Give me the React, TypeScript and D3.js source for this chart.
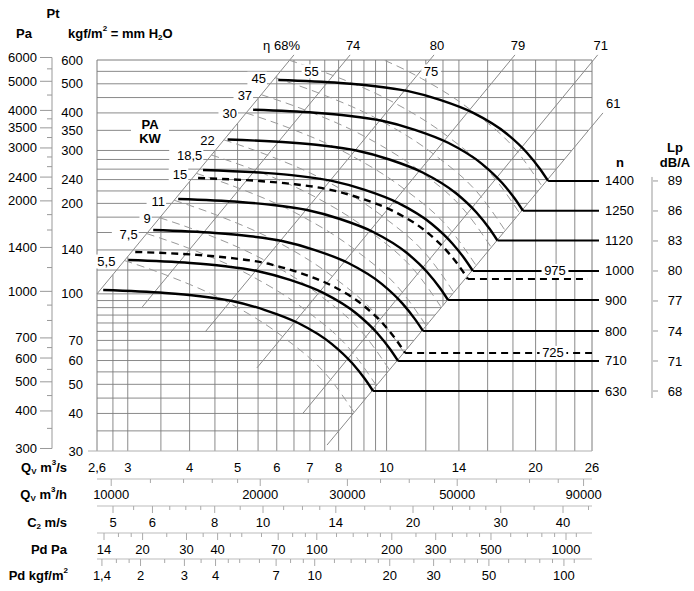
import React from "react";
import * as d3 from "d3";

// ---------------- data ----------------
const speeds = [1400, 1250, 1120, 1000, 900, 800, 710, 630];
const kneeQ = [21.2, 18.86, 16.75, 14.94, 13.31, 11.85, 10.55, 9.39];
const kneeP = [237.5, 189, 150.5, 119.2, 95.4, 75.2, 59.8, 47.5];
const lpValues = [89, 86, 83, 80, 77, 74, 71, 68];
const dashedSpeeds = [975, 725];
const dashedKneeQ = [14.6, 10.9];
const dashedKneeP = [112, 63.6];
// fan curve shape (ratio to the knee point)
const shapeQ = [0.285, 0.38, 0.443, 0.519, 0.605, 0.706, 0.826, 0.907, 0.963, 1];
const shapeP = [2.168, 2.119, 2.071, 1.993, 1.86, 1.684, 1.433, 1.239, 1.096, 1];

const etaLabels = ["68", "74", "80", "79", "71", "61"];
const etaQ0 = [2.6, 3.21, 4.3, 5.47, 6.78, 7.58];
const etaP0 = [100, 90.5, 74.7, 56.7, 40.1, 31.4];
const etaQ1 = [6.5, 8.44, 12.47, 18.17, 26.7, 27.36];
const etaP1 = [624, 624, 624, 624, 624, 400];

const powerLabels = ["45", "37", "30", "22", "18,5", "15", "11", "9", "7,5", "5,5"];
const powerQ0 = [5.95, 5.578, 5.2, 4.69, 4.426, 4.126, 3.722, 3.481, 3.276, 2.954];
const powerP0 = [523.8, 460.2, 400, 325.5, 289.8, 251.8, 204.9, 179.2, 158.7, 129.1];
const topPowerLabels = ["55", "75"];
const topPowerQ0 = [6.36, 7.057];
const topPowerP0 = [599, 736.6];
const topPowerLabelQ = [7.05, 12.3];
const powerShapeQ = [1, 1.221, 1.622, 2.086, 2.608, 2.929];
const powerShapeP = [1, 0.8915, 0.7246, 0.5587, 0.4018, 0.3073];

const gridQ = [2.8, 3, 3.5, 4, 4.5, 5, 5.5, 6, 6.5, 7, 7.5, 8, 8.5, 9, 9.5, 10, 12, 14, 16, 18, 20, 22, 24];
const gridQUpper = [11, 13];
const gridP = [35, 40, 45, 50, 55, 60, 65, 70, 75, 80, 85, 90, 95, 100, 120, 140, 160, 180, 200, 220, 240, 260, 280, 300, 350, 400, 450, 500, 550];

const ptTicks = [600, 500, 400, 350, 300, 240, 200, 140, 100, 70, 60, 50, 40, 30];
const paTicks = [6000, 5000, 4000, 3500, 3000, 2400, 2000, 1400, 1000, 700, 600, 500, 400, 300];
const paMinor = [5500, 4500, 3750, 3250, 2800, 2600, 2200, 1800, 1600, 1200, 900, 800, 650, 550, 450, 350];

const qsLabels = [2.6, 3, 4, 5, 6, 7, 8, 10, 14, 20, 26];
const qhTicks = [10000, 12000, 14000, 16000, 18000, 20000, 25000, 30000, 35000, 40000, 45000, 50000, 60000, 70000, 80000, 90000];
const qhLabels = [10000, 20000, 30000, 50000, 90000];
const c2Ticks = [5, 5.5, 6, 6.5, 7, 7.5, 8, 9, 10, 11, 12, 13, 14, 16, 18, 20, 22, 24, 26, 28, 30, 35, 40, 45];
const c2Labels = [5, 6, 8, 10, 14, 20, 30, 40];
const pdTicks = [14, 16, 18, 20, 25, 30, 35, 40, 45, 50, 60, 70, 80, 90, 100, 120, 140, 160, 180, 200, 250, 300, 350, 400, 450, 500, 600, 700, 800, 900, 1000, 1100];
const pdLabels = [14, 20, 30, 40, 70, 100, 200, 300, 500, 1000];
const pkTicks = [1.4, 1.6, 1.8, 2, 2.5, 3, 3.5, 4, 4.5, 5, 6, 7, 8, 9, 10, 12, 14, 16, 18, 20, 25, 30, 35, 40, 45, 50, 60, 70, 80, 90, 100, 110];
const pkLabels = [1.4, 2, 3, 4, 7, 10, 20, 30, 50, 100];

const FONT = "'Liberation Sans', Arial, Helvetica, sans-serif";
const fmt = (v: number) => String(v).replace(".", ",");

type Pt = [number, number];

export default function App() {
  const X0 = 97, X1 = 592, Y0 = 451, Y1 = 60;
  const xQ = d3.scaleLog().domain([2.6, 26]).range([X0, X1]);
  const yP = d3.scaleLog().domain([30, 600]).range([Y0, Y1]);
  const yPa = d3.scaleLog().domain([30 * 9.81, 600 * 9.81]).range([Y0, Y1]);
  const xQh = (v: number) => xQ(v / 3600);
  const xC2 = d3.scaleLog().domain([5, 40]).range([113, 563]);
  const xPd = d3.scaleLog().domain([14, 1000]).range([104, 566]);
  const xPk = (v: number) => xPd(v * 9.81);
  const lpScale = d3.scaleLinear().domain([68, 89]).range([yP(kneeP[7]), yP(kneeP[0])]);

  const curve = d3.line<Pt>().x(d => xQ(d[0])).y(d => yP(d[1])).curve(d3.curveMonotoneX);

  const etaPix = etaLabels.map((l, i) => ({
    l, x0: xQ(etaQ0[i]), y0: yP(etaP0[i]), x1: xQ(etaQ1[i]), y1: yP(etaP1[i]),
  }));
  type L = { x0: number; y0: number; x1: number; y1: number };
  const yOn = (Ln: L, x: number) => Ln.y0 + (x - Ln.x0) * (Ln.y1 - Ln.y0) / (Ln.x1 - Ln.x0);
  const xOn = (Ln: L, y: number) => Ln.x0 + (y - Ln.y0) * (Ln.x1 - Ln.x0) / (Ln.y1 - Ln.y0);
  const leftL = etaPix[0], rightL = etaPix[5];

  const gridColor = "#7d7d7d";
  const els: React.ReactNode[] = [];

  // grid verticals (right/below the 68% line)
  gridQ.forEach((q, i) => {
    const x = xQ(q);
    const yt = Math.max(Y1, yOn(leftL, x));
    els.push(<line key={"gv" + i} x1={x} x2={x} y1={yt} y2={Y0} stroke={gridColor} strokeWidth={0.9} />);
  });
  // extra verticals only inside the working area (above the 61% line)
  gridQUpper.forEach((q, i) => {
    const x = xQ(q);
    const yb = Math.min(Y0, yOn(rightL, x));
    els.push(<line key={"gvu" + i} x1={x} x2={x} y1={Y1} y2={yb} stroke={gridColor} strokeWidth={0.9} />);
  });
  // grid horizontals (left of the 61% line)
  gridP.forEach((p, i) => {
    const y = yP(p);
    const xr = Math.min(X1, xOn(rightL, y));
    els.push(<line key={"gh" + i} x1={X0} x2={xr} y1={y} y2={y} stroke={gridColor} strokeWidth={0.9} />);
  });
  // frame
  els.push(<line key="fl" x1={X0} x2={X0} y1={Y1} y2={Y0} stroke={gridColor} strokeWidth={1} />);
  els.push(<line key="fr" x1={X1} x2={X1} y1={Y1} y2={Y0} stroke={gridColor} strokeWidth={1} />);
  els.push(<line key="ft" x1={X0} x2={X1} y1={Y1} y2={Y1} stroke={gridColor} strokeWidth={1} />);
  els.push(<line key="fb" x1={88} x2={X1} y1={Y0} y2={Y0} stroke="#b0b0b0" strokeWidth={1.2} />);

  // efficiency lines
  etaPix.forEach((e, i) => {
    els.push(<line key={"eta" + i} x1={e.x0} y1={e.y0} x2={e.x1} y2={e.y1} stroke="#8a8a8a" strokeWidth={1} />);
  });

  // power lines (gray dashed)
  const powerPath = (q0: number, p0: number) =>
    curve(powerShapeQ.map((r, j) => [q0 * r, p0 * powerShapeP[j]] as Pt)) || "";
  powerQ0.forEach((q0, i) => {
    els.push(<path key={"pw" + i} d={powerPath(q0, powerP0[i])} fill="none" stroke="#9a9a9a" strokeWidth={1} strokeDasharray="8,5" clipPath="url(#plotclip)" />);
  });
  topPowerQ0.forEach((q0, i) => {
    els.push(<path key={"tpw" + i} d={powerPath(q0, topPowerP0[i])} fill="none" stroke="#9a9a9a" strokeWidth={1} strokeDasharray="8,5" clipPath="url(#plotclip)" />);
  });

  // label with white background
  const boxed = (key: string, txt: string, x: number, y: number, anchor: "start" | "middle" | "end", bold = false, size = 13) => {
    const w = txt.length * size * 0.56 + 3;
    const bx = anchor === "middle" ? x - w / 2 : anchor === "end" ? x - w : x;
    return (
      <g key={key}>
        <rect x={bx - 1} y={y - 7} width={w + 2} height={14} fill="#fff" />
        <text x={x} y={y} textAnchor={anchor} dominantBaseline="central" fontSize={size} fontWeight={bold ? "bold" : "normal"}>{txt}</text>
      </g>
    );
  };

  // power labels
  powerLabels.forEach((lab, i) => {
    const x = xQ(powerQ0[i]) - 9, y = yP(powerP0[i]) + 1;
    els.push(boxed("pl" + i, lab, x, y, "end"));
  });
  topPowerLabels.forEach((lab, i) => {
    els.push(boxed("tpl" + i, lab, xQ(topPowerLabelQ[i]), yP(550), "middle"));
  });
  // PA KW
  els.push(
    <g key="pakw">
      <rect x={131} y={116} width={38} height={30} fill="#fff" />
      <text x={150} y={124} textAnchor="middle" dominantBaseline="central" fontSize={13} fontWeight="bold">PA</text>
      <text x={150} y={138} textAnchor="middle" dominantBaseline="central" fontSize={13} fontWeight="bold">KW</text>
    </g>
  );

  // fan curves
  speeds.forEach((n, i) => {
    const pts = shapeQ.map((r, j) => [kneeQ[i] * r, kneeP[i] * shapeP[j]] as Pt);
    els.push(<path key={"fc" + i} d={curve(pts) || ""} fill="none" stroke="#000" strokeWidth={2.4} />);
    const y = yP(kneeP[i]);
    els.push(<line key={"fh" + i} x1={xQ(kneeQ[i])} x2={599} y1={y} y2={y} stroke="#000" strokeWidth={2} />);
    els.push(<text key={"fn" + i} x={605} y={y} dominantBaseline="central" fontSize={13}>{n}</text>);
    els.push(<line key={"lpt" + i} x1={653} x2={658} y1={lpScale(lpValues[i])} y2={lpScale(lpValues[i])} stroke="#999" strokeWidth={1} />);
    els.push(<text key={"lp" + i} x={675} y={lpScale(lpValues[i])} textAnchor="middle" dominantBaseline="central" fontSize={13}>{lpValues[i]}</text>);
  });
  const dashedEnd = [588, 592];
  const dashedLabelX = [555, 553];
  dashedSpeeds.forEach((n, i) => {
    const pts = shapeQ.map((r, j) => [dashedKneeQ[i] * r, dashedKneeP[i] * shapeP[j]] as Pt);
    els.push(<path key={"dc" + i} d={curve(pts) || ""} fill="none" stroke="#000" strokeWidth={2.4} strokeDasharray="7,5" />);
    const y = yP(dashedKneeP[i]);
    els.push(<line key={"dh" + i} x1={xQ(dashedKneeQ[i])} x2={dashedEnd[i]} y1={y} y2={y} stroke="#000" strokeWidth={2} strokeDasharray="7,5" />);
  });
  // dashed labels: 975 sits on the 1000 line, 725 on its own line
  els.push(boxed("l975", String(dashedSpeeds[0]), dashedLabelX[0], yP(kneeP[3]), "middle"));
  els.push(boxed("l725", String(dashedSpeeds[1]), dashedLabelX[1], yP(dashedKneeP[1]), "middle"));

  // Lp axis line
  els.push(<line key="lpax" x1={652} x2={652} y1={lpScale(89) - 4} y2={lpScale(68) + 7} stroke="#999" strokeWidth={1} />);

  // eta labels
  etaPix.forEach((e, i) => {
    if (i === 0) {
      els.push(<text key="etl0" x={e.x1 + 6} y={45} textAnchor="end" dominantBaseline="central" fontSize={13}>η 68%</text>);
    } else if (i === 5) {
      els.push(<text key="etl5" x={e.x1 + 3} y={e.y1 - 9} textAnchor="start" dominantBaseline="central" fontSize={13}>{e.l}</text>);
    } else {
      els.push(<text key={"etl" + i} x={e.x1 + 3} y={45} textAnchor="middle" dominantBaseline="central" fontSize={13}>{e.l}</text>);
    }
  });

  // left axes
  ptTicks.forEach((v, i) => {
    els.push(<text key={"pt" + i} x={83} y={yP(v)} textAnchor="end" dominantBaseline="central" fontSize={13}>{v}</text>);
  });
  els.push(<line key="paax" x1={52} x2={52} y1={yPa(6000)} y2={yPa(300)} stroke="#999" strokeWidth={1} />);
  paTicks.forEach((v, i) => {
    els.push(<line key={"pat" + i} x1={40} x2={52} y1={yPa(v)} y2={yPa(v)} stroke="#999" strokeWidth={1} />);
    els.push(<text key={"pal" + i} x={37} y={yPa(v)} textAnchor="end" dominantBaseline="central" fontSize={13}>{v}</text>);
  });
  paMinor.forEach((v, i) => {
    els.push(<line key={"pam" + i} x1={47} x2={52} y1={yPa(v)} y2={yPa(v)} stroke="#999" strokeWidth={1} />);
  });

  // bottom scales
  qsLabels.forEach((v, i) => {
    els.push(<text key={"qs" + i} x={xQ(v)} y={467} textAnchor="middle" dominantBaseline="central" fontSize={13}>{fmt(v)}</text>);
  });
  const rows = [
    { y: 479, ly: 494, ticks: qhTicks, labels: qhLabels, f: xQh },
    { y: 506, ly: 522, ticks: c2Ticks, labels: c2Labels, f: (v: number) => xC2(v) },
    { y: 533, ly: 549, ticks: pdTicks, labels: pdLabels, f: (v: number) => xPd(v) },
    { y: 559, ly: 575, ticks: pkTicks, labels: pkLabels, f: xPk },
  ];
  rows.forEach((r, ri) => {
    els.push(<line key={"ra" + ri} x1={X0} x2={X1} y1={r.y} y2={r.y} stroke="#bbb" strokeWidth={1} />);
    r.ticks.forEach((v, i) => {
      const major = r.labels.includes(v);
      els.push(<line key={`rt${ri}-${i}`} x1={r.f(v)} x2={r.f(v)} y1={r.y} y2={r.y + (major ? 7 : 4)} stroke="#aaa" strokeWidth={1} />);
    });
    r.labels.forEach((v, i) => {
      els.push(<text key={`rl${ri}-${i}`} x={r.f(v)} y={r.ly} textAnchor="middle" dominantBaseline="central" fontSize={13}>{fmt(v)}</text>);
    });
  });

  const small = { fontSize: 8 };
  return (
    <svg width={694} height={591} viewBox="0 0 694 591" style={{ position: "absolute", left: 0, top: 0, background: "#fff" }} fontFamily={FONT}>
      <defs>
        <clipPath id="plotclip"><rect x={X0} y={Y1} width={X1 - X0} height={Y0 - Y1} /></clipPath>
      </defs>
      <rect x={0} y={0} width={694} height={591} fill="#fff" />
      {els}
      {/* header labels */}
      <text x={53} y={13} textAnchor="middle" dominantBaseline="central" fontSize={13} fontWeight="bold">Pt</text>
      <text x={24} y={33} textAnchor="middle" dominantBaseline="central" fontSize={13} fontWeight="bold">Pa</text>
      <text x={68} y={33} dominantBaseline="central" fontSize={13} fontWeight="bold">
        kgf/m<tspan dy={-5} {...small}>2</tspan><tspan dy={5}> = mm H</tspan><tspan dy={4} {...small}>2</tspan><tspan dy={-4}>O</tspan>
      </text>
      <text x={620} y={162} textAnchor="middle" dominantBaseline="central" fontSize={13} fontWeight="bold">n</text>
      <text x={675} y={147} textAnchor="middle" dominantBaseline="central" fontSize={13} fontWeight="bold">Lp</text>
      <text x={675} y={162} textAnchor="middle" dominantBaseline="central" fontSize={13} fontWeight="bold">dB/A</text>
      {/* row titles */}
      <text x={67} y={467} textAnchor="end" dominantBaseline="central" fontSize={13} fontWeight="bold">
        Q<tspan dy={4} {...small}>V</tspan><tspan dy={-4}> m</tspan><tspan dy={-5} {...small}>3</tspan><tspan dy={5}>/s</tspan>
      </text>
      <text x={67} y={494} textAnchor="end" dominantBaseline="central" fontSize={13} fontWeight="bold">
        Q<tspan dy={4} {...small}>V</tspan><tspan dy={-4}> m</tspan><tspan dy={-5} {...small}>3</tspan><tspan dy={5}>/h</tspan>
      </text>
      <text x={67} y={522} textAnchor="end" dominantBaseline="central" fontSize={13} fontWeight="bold">
        C<tspan dy={4} {...small}>2</tspan><tspan dy={-4}> m/s</tspan>
      </text>
      <text x={67} y={549} textAnchor="end" dominantBaseline="central" fontSize={13} fontWeight="bold">Pd Pa</text>
      <text x={68} y={575} textAnchor="end" dominantBaseline="central" fontSize={13} fontWeight="bold">
        Pd kgf/m<tspan dy={-5} {...small}>2</tspan>
      </text>
    </svg>
  );
}
